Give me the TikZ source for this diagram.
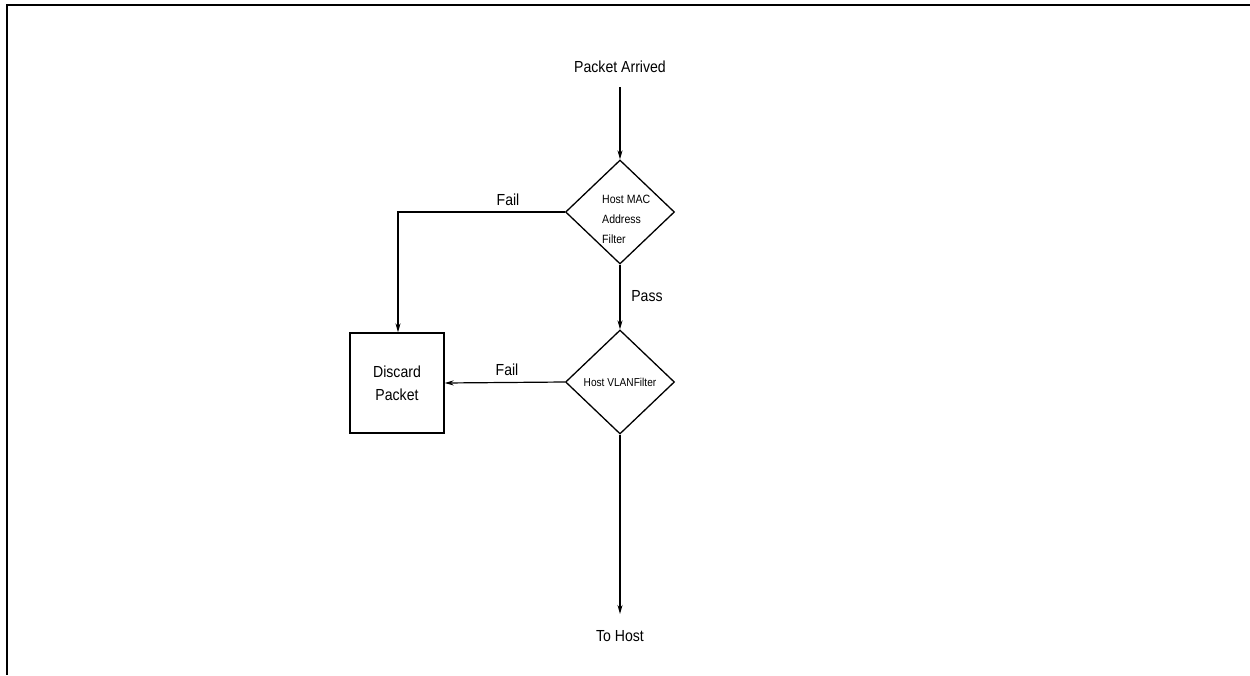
\documentclass[tikz,border=0pt]{standalone}
\usepackage{fontspec}
\setmainfont{Liberation Sans}[FakeStretch=0.88]
\usetikzlibrary{shapes.geometric,arrows.meta}
\begin{document}
\begin{tikzpicture}[x=1pt,y=-1pt,
  lbl/.style={inner sep=0pt,font=\fontsize{16}{19}\selectfont},
  dec/.style={draw,line width=1.3pt,diamond,minimum width=109pt,minimum height=104pt,inner sep=0pt,aspect=1.05},
  box/.style={draw,line width=1.3pt,minimum width=94pt,minimum height=100pt,inner sep=0pt,align=center,font=\fontsize{16}{23}\selectfont},
  conn/.style={line width=1.2pt,-{Stealth[length=9pt,width=5pt]}}]
\useasboundingbox (0,0) rectangle (1250,675);
\draw[line width=2pt] (1250,5) -- (7,5) -- (7,675);
\node[lbl] (start) at (620,67) {Packet Arrived};
\node[dec] (mac) at (620,212) {};
\node[inner sep=0pt,align=left,font=\fontsize{12}{20}\selectfont,anchor=west] (mactxt) at (602,219) {Host MAC\\Address\\Filter};
\node[box] (discard) at (397,383) {Discard\\Packet};
\node[dec] (vlan) at (620,382) {};
\node[inner sep=0pt,font=\fontsize{11.5}{14}\selectfont] (vlantxt) at (620,382) {Host VLANFilter};
\node[lbl] (host) at (620,636) {To Host};
\coordinate (c1) at (398,212);
\coordinate (s1) at (620,87);
\coordinate (h1) at (620,614);
\draw[conn] (s1) -- (mac.north);
\draw[conn] (mac.west) -- (c1) -- (discard.north -| c1);
\node[lbl] (fail1) at (508,200) {Fail};
\draw[conn] (mac.south) -- (vlan.north);
\node[lbl] (pass) at (647,296) {Pass};
\draw[conn] (vlan.west) -- (discard.east);
\node[lbl] (fail2) at (507,370) {Fail};
\draw[conn] (vlan.south) -- (h1);
\end{tikzpicture}
\end{document}
